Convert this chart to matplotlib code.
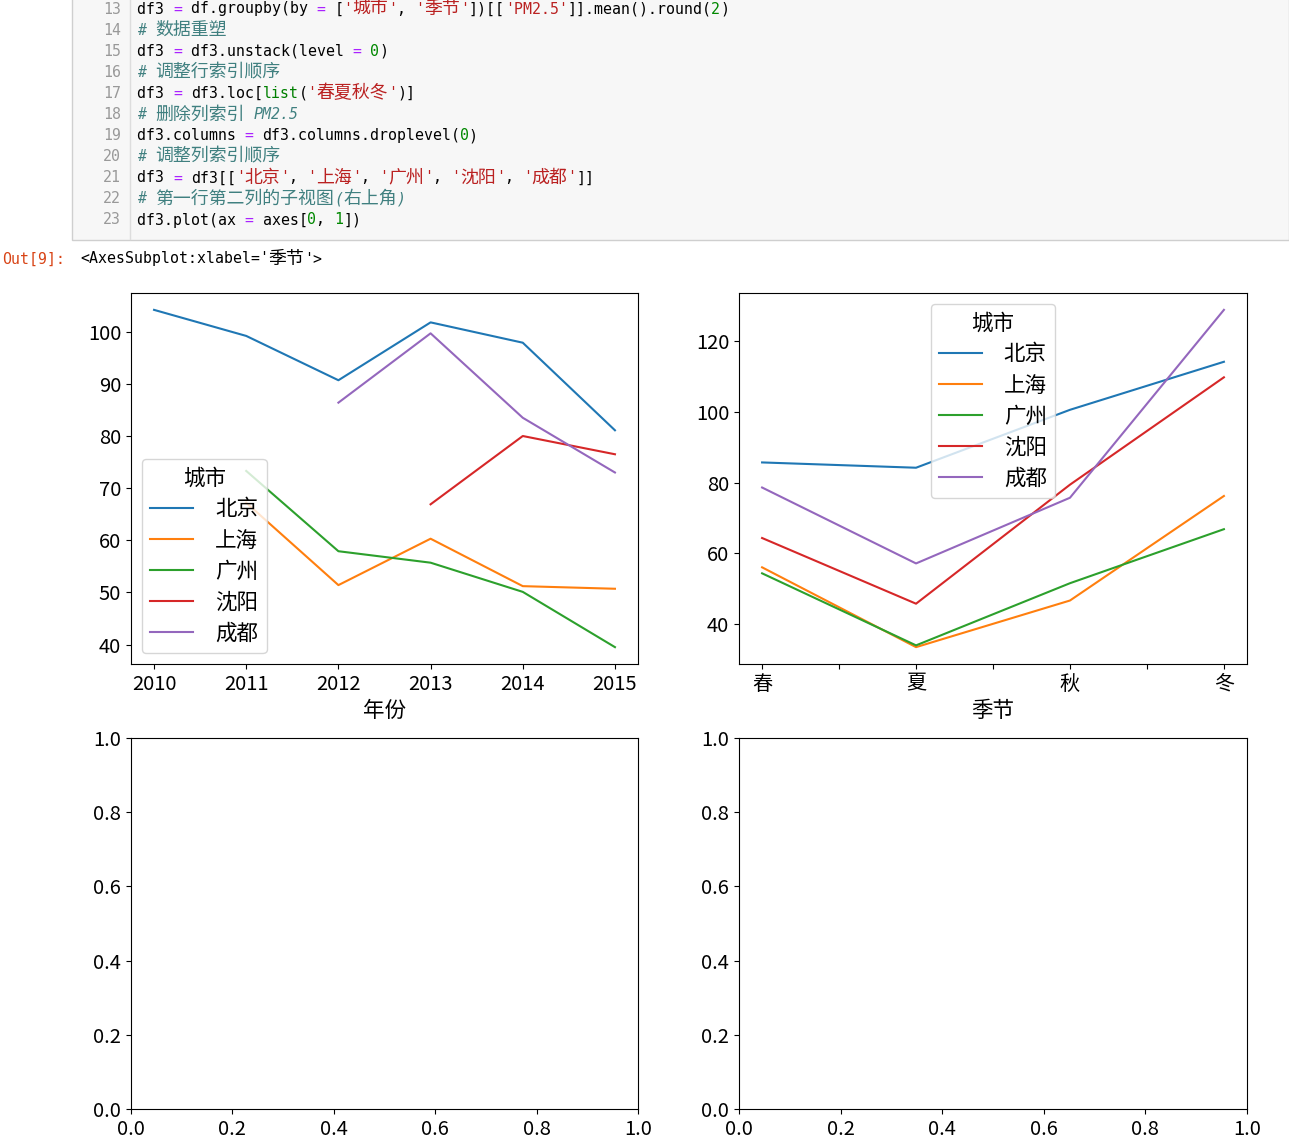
''' Recreate the notebook output: PM2.5 line plots in a 2x2 grid.
'''
import re

import numpy as np
import matplotlib
matplotlib.use('Agg')
import matplotlib.pyplot as plt
from matplotlib.patches import Rectangle
from matplotlib.lines import Line2D

plt.rcParams['font.family'] = ['Noto Sans CJK SC', 'DejaVu Sans']
plt.rcParams['axes.unicode_minus'] = False
plt.rcParams['font.size'] = 14.5

W, H = 1289, 1147

# code cell shown above the plot
first_line_no = 13
code_lines = [
    "df3 = df.groupby(by = ['城市', '季节'])[['PM2.5']].mean().round(2)",
    "# 数据重塑",
    "df3 = df3.unstack(level = 0)",
    "# 调整行索引顺序",
    "df3 = df3.loc[list('春夏秋冬')]",
    "# 删除列索引 PM2.5",
    "df3.columns = df3.columns.droplevel(0)",
    "# 调整列索引顺序",
    "df3 = df3[['北京', '上海', '广州', '沈阳', '成都']]",
    "# 第一行第二列的子视图(右上角)",
    "df3.plot(ax = axes[0, 1])",
]
out_prompt = 'Out[9]:'
out_repr = "<AxesSubplot:xlabel='季节'>"

# data
cities = ['北京', '上海', '广州', '沈阳', '成都']
years = [2010, 2011, 2012, 2013, 2014, 2015]
bj_year = [104.2, 99.2, 90.7, 101.8, 97.9, 81.1]
sh_year = [np.nan, 67.2, 51.4, 60.3, 51.2, 50.7]
gz_year = [np.nan, 73.3, 57.9, 55.7, 50.1, 39.5]
sy_year = [np.nan, np.nan, np.nan, 66.9, 80.0, 76.5]
cd_year = [np.nan, np.nan, 86.4, 99.7, 83.5, 73.0]

seasons = ['春', '夏', '秋', '冬']
bj_season = [85.7, 84.2, 100.6, 114.2]
sh_season = [56.0, 33.4, 46.6, 76.2]
gz_season = [54.3, 33.9, 51.5, 66.8]
sy_season = [64.3, 45.7, 79.4, 109.8]
cd_season = [78.6, 57.1, 75.7, 128.9]

colors = ['#1f77b4', '#ff7f0e', '#2ca02c', '#d62728', '#9467bd']

MONO_FONT = ['DejaVu Sans Mono', 'Noto Sans CJK SC']
CJK_FONT = ['Noto Sans CJK SC', 'DejaVu Sans']
ADV = 8.97                       # px per ascii column
CODE_SIZE = ADV / 0.602 * 0.72   # pt
CJK_EM = 2 * ADV
CJK_SIZE = CJK_EM * 0.72

TOKEN_RE = re.compile(r"('[^']*')|(\blist\b)|(\b\d+\b)|(=)")
RUN_RE = re.compile(r"([\u2e80-\uffff]+)|([^\u2e80-\uffff]+)")


def split_tokens(line):
    ''' Very small syntax highlighter for the code cell.
    '''
    if line.lstrip().startswith('#'):
        return [(line, '#408080', 'italic')]
    out = []
    pos = 0
    for m in TOKEN_RE.finditer(line):
        if m.start() > pos:
            out.append((line[pos:m.start()], 'black', 'normal'))
        if m.group(1):
            c = '#BA2121'
        elif m.group(2):
            c = '#008000'
        elif m.group(3):
            c = '#008800'
        else:
            c = '#AA22FF'
        out.append((m.group(0), c, 'normal'))
        pos = m.end()
    if pos < len(line):
        out.append((line[pos:], 'black', 'normal'))
    return out


def draw_code_text(fig, x, y, s, color, style='normal'):
    ''' Draw one coloured chunk, CJK runs wider like in a notebook, return new x.
    '''
    for m in RUN_RE.finditer(s):
        run = m.group(0)
        if m.group(1):
            fig.text(x / W, 1 - y / H, run, va='center', ha='left', family=CJK_FONT,
                     fontsize=CJK_SIZE, color=color)
            x += CJK_EM * len(run)
        else:
            stripped = run.lstrip(' ')
            x += ADV * (len(run) - len(stripped))
            if stripped.strip():
                fig.text(x / W, 1 - y / H, stripped, va='center', ha='left',
                         family=MONO_FONT, fontsize=CODE_SIZE, color=color, style=style)
            x += ADV * len(stripped)
    return x


fig, axes = plt.subplots(2, 2, figsize=(W / 100, H / 100), dpi=100)

# code cell background
fig.add_artist(Rectangle((72 / W, 1 - 240 / H), (W - 72) / W, 242 / H,
                         transform=fig.transFigure, facecolor='#f7f7f7',
                         edgecolor='#cfcfcf', lw=1, zorder=0))
fig.add_artist(Line2D([130 / W, 130 / W], [1 - 239 / H, 1], transform=fig.transFigure,
                      color='#dddddd', lw=1))

for i, line in enumerate(code_lines):
    y = 9 + i * 21.1
    fig.text(121 / W, 1 - y / H, str(first_line_no + i), va='center', ha='right',
             family=MONO_FONT, fontsize=CODE_SIZE, color='#999999')
    x = 137
    for tok, c, st in split_tokens(line):
        x = draw_code_text(fig, x, y, tok, c, st)

draw_code_text(fig, 2, 259, out_prompt, '#D84315')
draw_code_text(fig, 80, 259, out_repr, 'black')

# axes positions in pixels: left, top, right, bottom
boxes = [[(131, 293, 638, 664), (739, 293, 1247, 664)],
         [(131, 738, 638, 1109), (739, 738, 1247, 1109)]]
for r in range(2):
    for c in range(2):
        l, t, rr, b = boxes[r][c]
        axes[r, c].set_position([l / W, 1 - b / H, (rr - l) / W, (b - t) / H])

legend_kw = dict(title='城市', fontsize=15.5, title_fontsize=15.5,
                 handletextpad=1.0, labelspacing=0.42)

# top left: by year
ax = axes[0, 0]
for vals, name, col in zip([bj_year, sh_year, gz_year, sy_year, cd_year], cities, colors):
    ax.plot(years, vals, color=col, lw=1.5, label=name)
ax.set_xticks(years)
ax.set_yticks([40, 50, 60, 70, 80, 90, 100])
ax.set_xlabel('年份', fontsize=15.5)
ax.legend(loc='lower left', **legend_kw)

# top right: by season
ax = axes[0, 1]
xs = np.arange(len(seasons))
for vals, name, col in zip([bj_season, sh_season, gz_season, sy_season, cd_season], cities, colors):
    ax.plot(xs, vals, color=col, lw=1.5, label=name)
ax.set_xticks(np.arange(0, 3.5, 0.5))
ax.set_xticklabels(['春', '', '夏', '', '秋', '', '冬'])
ax.set_yticks([40, 60, 80, 100, 120])
ax.set_xlabel('季节', fontsize=15.5)
ax.legend(loc='upper center', **legend_kw)

fig.savefig('out.png', dpi=100)
